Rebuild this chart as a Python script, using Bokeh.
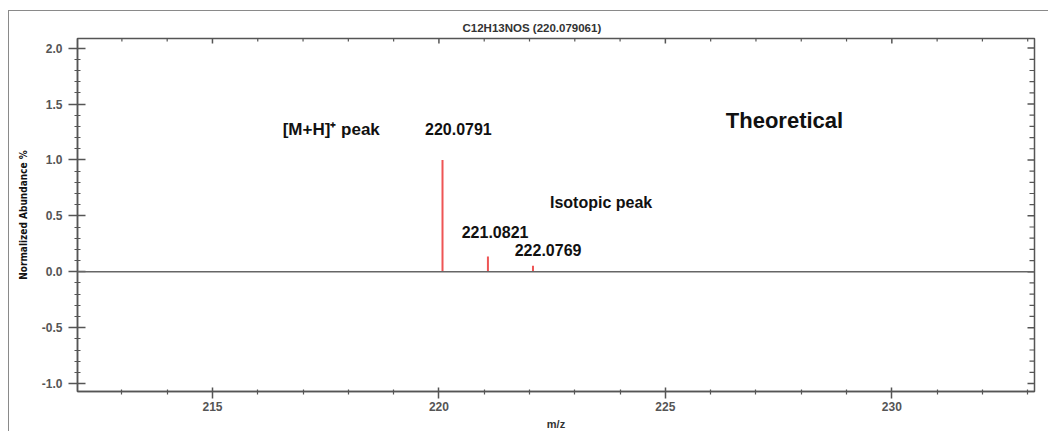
import math
from bokeh.plotting import figure
from bokeh.models import (Range1d, LinearAxis, FixedTicker, Span, Label, PrintfTickFormatter)
from bokeh.embed import file_html
from bokeh.resources import INLINE

# ---- data ----
title_text = "C12H13NOS (220.079061)"
peak_mz = [220.0791, 221.0821, 222.0769, 223.08, 224.08]
peak_abundance = [1.0, 0.137, 0.053, 0.005, 0.003]
x_major_ticks = [215, 220, 225, 230]
x_minor_ticks = [213, 214, 216, 217, 218, 219, 221, 222, 223, 224, 226, 227, 228, 229, 231, 232, 233]
y_major_ticks = [-1.0, -0.5, 0.0, 0.5, 1.0, 1.5, 2.0]
y_minor_ticks = [-0.9, -0.8, -0.7, -0.6, -0.4, -0.3, -0.2, -0.1, 0.1, 0.2, 0.3, 0.4,
                 0.6, 0.7, 0.8, 0.9, 1.1, 1.2, 1.3, 1.4, 1.6, 1.7, 1.8, 1.9]
ann_texts = ["[M+H]\u207a peak", "220.0791", "Theoretical", "Isotopic peak", "221.0821", "222.0769"]
ann_x = [216.55, 220.43, 227.63, 223.58, 221.24, 222.41]
ann_y = [1.276, 1.276, 1.356, 0.619, 0.353, 0.193]
ann_size = ["17px", "16px", "22px", "16px", "16px", "16px"]
ann_align = ["left", "center", "center", "center", "center", "center"]

X_LO, X_HI = 212.02, 233.15
Y_LO, Y_HI = -1.071, 2.086

FONT = "Liberation Sans"
AX = "#555555"

p = figure(width=1040, height=421, output_backend="svg", toolbar_location=None,
           x_range=Range1d(X_LO, X_HI), y_range=Range1d(Y_LO, Y_HI),
           x_axis_location=None, y_axis_location=None,
           min_border_left=68, min_border_right=15, min_border_top=27, min_border_bottom=39,
           styles={"margin-left": "8px", "margin-top": "10px",
                   "border-left": "1px solid #8a8a8a", "border-top": "1px solid #8a8a8a"})
p.grid.visible = False
p.outline_line_color = AX
p.outline_line_width = 1.5
p.background_fill_color = "white"
p.border_fill_color = "white"

p.title.text = title_text
p.title.align = "left"
p.title.offset = 385
p.title.text_font = FONT
p.title.text_font_size = "11.5px"
p.title.text_font_style = "bold"
p.title.text_color = "#333333"

def style_axis(ax, mi, mo, ni, no):
    ax.axis_line_color = AX
    ax.axis_line_width = 1.5
    ax.major_tick_line_color = AX
    ax.minor_tick_line_color = AX
    ax.major_tick_line_width = 1.5
    ax.minor_tick_line_width = 1.2
    ax.major_tick_in = mi
    ax.major_tick_out = mo
    ax.minor_tick_in = ni
    ax.minor_tick_out = no
    ax.major_label_text_font = FONT
    ax.major_label_text_font_style = "bold"
    ax.major_label_text_color = "#555555"
    ax.major_label_text_font_size = "12px"

xt = FixedTicker(ticks=x_major_ticks, minor_ticks=x_minor_ticks)
yt = FixedTicker(ticks=y_major_ticks, minor_ticks=y_minor_ticks)

bottom = LinearAxis(ticker=xt, axis_label="m/z")
style_axis(bottom, 4, 7, 2, 3)
bottom.major_label_standoff = 3
bottom.axis_label_text_font = FONT
bottom.axis_label_text_font_style = "bold"
bottom.axis_label_text_font_size = "11px"
bottom.axis_label_text_color = "#333333"
bottom.axis_label_standoff = 4
p.add_layout(bottom, "below")

left = LinearAxis(ticker=yt, axis_label="Normalized Abundance %",
                  formatter=PrintfTickFormatter(format="%.1f"))
style_axis(left, 8, 9, 3, 3)
left.major_label_standoff = 6
left.axis_label_text_font = "DejaVu Sans Condensed"
left.axis_label_text_font_style = "bold"
left.axis_label_text_font_size = "10px"
left.axis_label_text_color = "#111111"
left.axis_label_standoff = 10
p.add_layout(left, "left")

# inward ticks on the top and right frame edges
p.ray(x=x_major_ticks, y=[Y_HI] * len(x_major_ticks), length=5, length_units="screen",
      angle=-math.pi / 2, line_color=AX, line_width=1.5)
p.ray(x=x_minor_ticks, y=[Y_HI] * len(x_minor_ticks), length=3, length_units="screen",
      angle=-math.pi / 2, line_color=AX, line_width=1.2)
p.ray(x=[X_HI] * len(y_major_ticks), y=y_major_ticks, length=7, length_units="screen",
      angle=math.pi, line_color=AX, line_width=1.5)
p.ray(x=[X_HI] * len(y_minor_ticks), y=y_minor_ticks, length=5, length_units="screen",
      angle=math.pi, line_color=AX, line_width=1.2)

p.add_layout(Span(location=0, dimension="width", line_color="#666666", line_width=1.5))

p.segment(x0=peak_mz, y0=[0] * len(peak_mz), x1=peak_mz, y1=peak_abundance,
          line_color="#ee5555", line_width=2)

for t, x, y, s, a in zip(ann_texts, ann_x, ann_y, ann_size, ann_align):
    p.add_layout(Label(x=x, y=y, text=t, text_font=FONT, text_font_style="bold",
                       text_font_size=s, text_align=a, text_baseline="middle",
                       text_color="#111111"))

open("out.html", "w").write(file_html(p, INLINE))
